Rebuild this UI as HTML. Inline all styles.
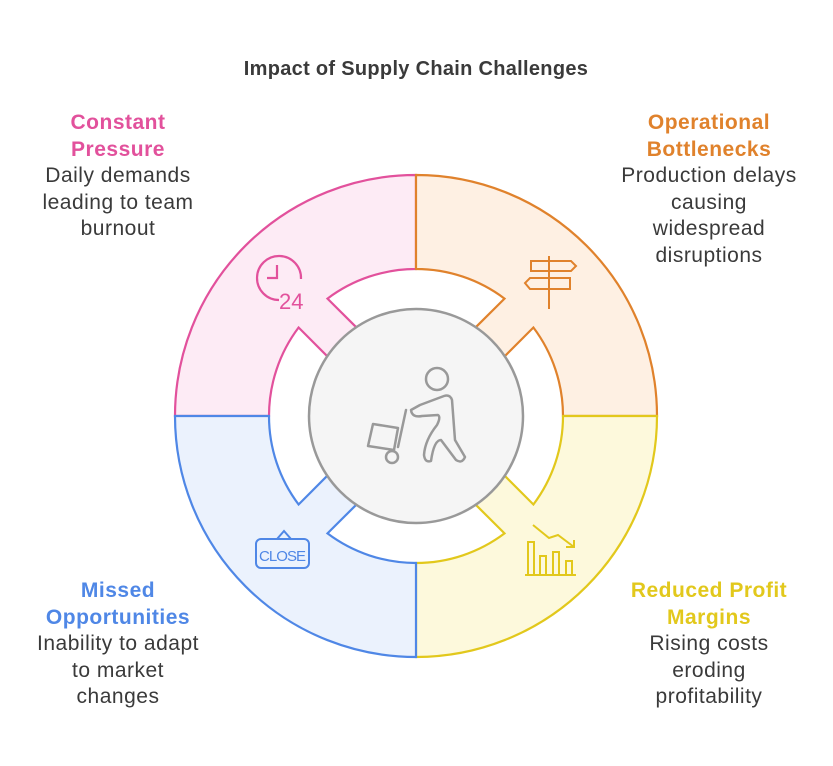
<!DOCTYPE html>
<html><head><meta charset="utf-8"><style>
html,body{margin:0;padding:0;background:#fff;width:833px;height:766px;overflow:hidden}
svg text{font-family:"Liberation Sans",sans-serif}
</style></head><body>
<svg width="833" height="766" viewBox="0 0 833 766" xmlns="http://www.w3.org/2000/svg">
<defs>
<path id="q" d="M175,416 A241,241 0 0 1 416,175 L416,269 A147,147 0 0 0 327.5,298.6 L356.3,327.3 L327.3,356.3 L298.6,327.5 A147,147 0 0 0 269,416 Z"/>
</defs>
<use href="#q" fill="#fdebf5" stroke="#e2519c" stroke-width="2.2"/>
<use href="#q" transform="rotate(90 416 416)" fill="#fef0e3" stroke="#e0822c" stroke-width="2.2"/>
<use href="#q" transform="rotate(180 416 416)" fill="#fdf9dc" stroke="#e2c81c" stroke-width="2.2"/>
<use href="#q" transform="rotate(270 416 416)" fill="#ebf2fd" stroke="#4f87e6" stroke-width="2.2"/>
<circle cx="416" cy="416" r="107" fill="#f5f5f5" stroke="#999" stroke-width="2.5"/>
<g fill="none" stroke="#999" stroke-width="2.5" stroke-linecap="round" stroke-linejoin="round">
<circle cx="437" cy="379" r="11"/>
<path d="M411,410 Q412,418 422,416 L438,415 Q441,417 437,425 Q425,440 424,455 Q425,463 431,461 Q434,440 441,440 L456,460 Q462,464 465,457 L455,440 L452,400 Q450,394 444,396 L420,405 Z"/>
<path d="M406,410 L398,447"/>
<path d="M373,424 L398,428 L394,450 L368,446 Z" />
<circle cx="392" cy="457" r="6"/>
</g>
<g fill="none" stroke="#e2519c" stroke-width="2.2">
<path d="M279,300 A22,22 0 1 1 301,279"/>
<path d="M277,265 L277,278 L267,278"/>
<text x="279" y="309" font-size="22" fill="#e2519c" stroke="none">24</text>
</g>
<g fill="none" stroke="#e0822c" stroke-width="2">
<path d="M549,256 L549,309"/>
<path d="M531,261 L571,261 L576,266 L571,271 L531,271 Z"/>
<path d="M570,278 L530,278 L525,283 L530,289 L570,289 Z"/>
</g>
<g fill="none" stroke="#e2c81c" stroke-width="2">
<path d="M525,575 L576,575"/>
<rect x="528" y="542" width="6" height="33"/>
<rect x="540" y="556" width="6" height="19"/>
<rect x="553" y="552" width="6" height="23"/>
<rect x="566" y="561" width="6" height="14"/>
<path d="M533,525 L549,538 L558,535 L574,547 M566,547 L574,547 L574,540"/>
</g>
<g fill="none" stroke="#4f87e6" stroke-width="2">
<path d="M277,539 L284,531 L291,539"/>
<rect x="256" y="539" width="53" height="29" rx="5"/>
<text x="259" y="561" font-size="15" fill="#4f87e6" stroke="none" textLength="47" lengthAdjust="spacing">CLOSE</text>
</g>
<text x="416" y="75" font-size="20" font-weight="bold" fill="#3a3a3a" text-anchor="middle" letter-spacing="0.3">Impact of Supply Chain Challenges</text>
<g font-size="21" text-anchor="middle" letter-spacing="0.5">
<text x="118" y="129" font-weight="bold" fill="#e2519c">Constant</text>
<text x="118" y="156" font-weight="bold" fill="#e2519c">Pressure</text>
<text x="118" y="182" fill="#3a3a3a">Daily demands</text>
<text x="118" y="209" fill="#3a3a3a">leading to team</text>
<text x="118" y="235" fill="#3a3a3a">burnout</text>
<text x="709" y="129" font-weight="bold" fill="#e0822c">Operational</text>
<text x="709" y="156" font-weight="bold" fill="#e0822c">Bottlenecks</text>
<text x="709" y="182" fill="#3a3a3a">Production delays</text>
<text x="709" y="209" fill="#3a3a3a">causing</text>
<text x="709" y="235" fill="#3a3a3a">widespread</text>
<text x="709" y="262" fill="#3a3a3a">disruptions</text>
<text x="118" y="597" font-weight="bold" fill="#4f87e6">Missed</text>
<text x="118" y="624" font-weight="bold" fill="#4f87e6">Opportunities</text>
<text x="118" y="650" fill="#3a3a3a">Inability to adapt</text>
<text x="118" y="677" fill="#3a3a3a">to market</text>
<text x="118" y="703" fill="#3a3a3a">changes</text>
<text x="709" y="597" font-weight="bold" fill="#e2c81c">Reduced Profit</text>
<text x="709" y="624" font-weight="bold" fill="#e2c81c">Margins</text>
<text x="709" y="650" fill="#3a3a3a">Rising costs</text>
<text x="709" y="677" fill="#3a3a3a">eroding</text>
<text x="709" y="703" fill="#3a3a3a">profitability</text>
</g>
</svg>
</body></html>
